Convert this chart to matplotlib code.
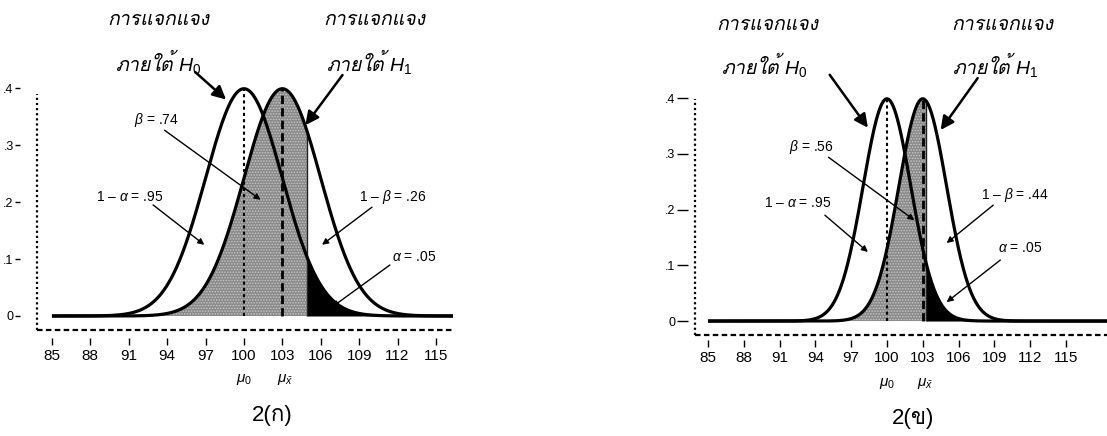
#normal curves under H0 and H1, alpha / beta regions, two panels

import numpy as np
import matplotlib.pyplot as plt
from matplotlib import font_manager
from matplotlib.ft2font import FT2Font


def find_thai_font():
    # look for any installed font that has Thai glyphs
    for f in font_manager.fontManager.ttflist:
        try:
            if ord('ก') in FT2Font(f.fname).get_charmap():
                return f.name
        except Exception:
            pass
    return 'DejaVu Sans'


thai = find_thai_font()
plt.rcParams['font.family'] = ['Liberation Sans', thai, 'DejaVu Sans']
plt.rcParams['mathtext.fontset'] = 'custom'
plt.rcParams['mathtext.rm'] = 'Liberation Sans'
plt.rcParams['mathtext.it'] = 'Liberation Sans:italic'
plt.rcParams['hatch.linewidth'] = 0.7

mu0 = 100
mu1 = 103
sd = [3.0, 2.0]            # standard error, panel (ก) and (ข)
z_alpha = 1.645            # one tailed, alpha = .05
x_start = 85

x_ticks = [85, 88, 91, 94, 97, 100, 103, 106, 109, 112, 115]
y_ticks = [0, 0.1, 0.2, 0.3, 0.4]
y_ticklabels = ['0', '.1', '.2', '.3', '.4']

heading = 'การแจกแจง'
under_h0 = 'ภายใต้ $H_0$'
under_h1 = 'ภายใต้ $H_1$'
beta_labels = [r'$\beta$ = .74', r'$\beta$ = .56']
power_labels = [r'1 – $\beta$ = .26', r'1 – $\beta$ = .44']
conf_label = r'1 – $\alpha$ = .95'
alpha_label = r'$\alpha$ = .05'
captions = ['2(ก)', '2(ข)']


def pdf(x, m, s):
    z = (x - m) / s
    return np.exp(-0.5 * z * z) / np.sqrt(2 * np.pi)


fig = plt.figure(figsize=(11.07, 4.36), dpi=100)

rects = [[0.0334, 0.2431, 0.3758, 0.5940], [0.6278, 0.2317, 0.3722, 0.5814]]
xlims = [(83.83, 116.33), (83.91, 118.44)]
ylims = [(-0.0246, 0.43), (-0.025, 0.43)]
top_frac = [0.91, 0.93]
# spine offsets / tick lengths in points (1 pt = 1.39 px here)
y_out = [12.2, 5]
y_len = [3.6, 8]
x_out = [5.8, 3.6]
x_len = [5, 5]

# label / arrow positions (data coords): text, arrow tail, arrow head
pos = [
    dict(h0=((93.3, 0.519), (93.3, 0.446)), h1=((110.2, 0.519), (109.8, 0.446)),
         h0_arrow=((96.2, 0.428), (98.6, 0.380)), h1_arrow=((107.7, 0.423), (104.8, 0.335)),
         beta=((93.2, 0.344), (93.8, 0.326), (101.3, 0.204)),
         conf=((91.1, 0.209), (92.9, 0.195), (96.9, 0.125)),
         power=((111.6, 0.209), (110.0, 0.191), (106.1, 0.125)),
         alpha=((113.3, 0.1035), (111.4, 0.0895), (106.9, 0.016))),
    dict(h0=((90.0, 0.531), (89.7, 0.460)), h1=((109.7, 0.531), (109.1, 0.460)),
         h0_arrow=((95.2, 0.442), (98.4, 0.347)), h1_arrow=((107.6, 0.436), (104.5, 0.343)),
         beta=((93.7, 0.312), (95.1, 0.294), (102.3, 0.181)),
         conf=((92.5, 0.212), (94.8, 0.190), (98.4, 0.124)),
         power=((110.7, 0.226), (108.9, 0.208), (105.0, 0.140)),
         alpha=((111.2, 0.131), (109.5, 0.1095), (105.0, 0.034))),
]

thick = dict(arrowstyle='-|>', lw=1.8, color='black', mutation_scale=20, shrinkA=0, shrinkB=0)
thin = dict(arrowstyle='-|>', lw=1.0, color='black', mutation_scale=9, shrinkA=0, shrinkB=0)

for i in range(2):
    ax = fig.add_axes(rects[i])
    s = sd[i]
    crit = mu0 + z_alpha * s
    p = pos[i]

    x = np.linspace(x_start, xlims[i][1], 3000)
    x = np.sort(np.append(x, crit))
    y0 = pdf(x, mu0, s)
    y1 = pdf(x, mu1, s)

    # beta region (under H1, left of critical value) and alpha region
    ax.fill_between(x, 0, y1, where=x <= crit, facecolor='#8a8a8a',
                    edgecolor='#c8c8c8', hatch='......', linewidth=0)
    ax.fill_between(x, 0, y0, where=x >= crit, color='black', linewidth=0)
    ax.vlines(crit, 0, pdf(crit, mu1, s), color='#222222', lw=1)

    ax.plot(x, y0, color='black', lw=2.3, solid_capstyle='butt')
    ax.plot(x, y1, color='black', lw=2.3, solid_capstyle='butt')
    ax.vlines(mu0, 0, pdf(mu0, mu0, s), color='black', lw=1.5, linestyles=(0, (1.5, 1.5)))
    ax.vlines(mu1, 0, pdf(mu1, mu1, s), color='black', lw=2, linestyles=(0, (3, 1.5)))

    ax.set_xlim(*xlims[i])
    ax.set_ylim(*ylims[i])
    ax.set_xticks(x_ticks)
    ax.set_yticks(y_ticks)
    ax.set_yticklabels(y_ticklabels)

    for side in ['top', 'right']:
        ax.spines[side].set_visible(False)
    ax.spines['left'].set_position(('outward', y_out[i]))
    ax.spines['bottom'].set_position(('outward', x_out[i]))
    ax.spines['left'].set_visible(False)
    ax.spines['bottom'].set_visible(False)
    ax.tick_params(axis='y', length=y_len[i], width=1, pad=1, labelsize=9)
    ax.tick_params(axis='x', length=x_len[i], width=1, pad=3, labelsize=11)

    # dotted / dashed frame lines
    ax.plot([0, 0], [0, top_frac[i]], transform=ax.transAxes, color='black',
            lw=1.6, linestyle=(0, (1, 1.3)), clip_on=False)
    ax.plot([0, 1], [0, 0], transform=ax.transAxes, color='black',
            lw=1.6, linestyle=(0, (2.5, 1.5)), clip_on=False)

    # headings
    for (tx, ty), txt in zip(p['h0'], [heading, under_h0]):
        ax.text(tx, ty, txt, ha='center', va='center', fontsize=14,
                style='italic', family=[thai, 'Liberation Sans'], clip_on=False)
    for (tx, ty), txt in zip(p['h1'], [heading, under_h1]):
        ax.text(tx, ty, txt, ha='center', va='center', fontsize=14,
                style='italic', family=[thai, 'Liberation Sans'], clip_on=False)
    ax.annotate('', xy=p['h0_arrow'][1], xytext=p['h0_arrow'][0],
                arrowprops=thick, annotation_clip=False)
    ax.annotate('', xy=p['h1_arrow'][1], xytext=p['h1_arrow'][0],
                arrowprops=thick, annotation_clip=False)

    for key, txt in [('beta', beta_labels[i]), ('conf', conf_label),
                     ('power', power_labels[i]), ('alpha', alpha_label)]:
        (tx, ty), tail, head = p[key]
        ax.text(tx, ty, txt, ha='center', va='center', fontsize=10)
        ax.annotate('', xy=head, xytext=tail, arrowprops=thin)

    tr = ax.get_xaxis_transform()
    ax.text(mu0, -0.19, r'$\mu_0$', transform=tr, ha='center', va='center', fontsize=11)
    ax.text(mu1 + 0.2, -0.19, r'$\mu_{\bar{x}}$', transform=tr, ha='center', va='center', fontsize=11)
    ax.text(102.2, -0.33, captions[i], transform=tr, ha='center', va='center',
            fontsize=16, family=['Liberation Sans', thai, 'DejaVu Sans'])

plt.savefig('out.png', dpi=100)
